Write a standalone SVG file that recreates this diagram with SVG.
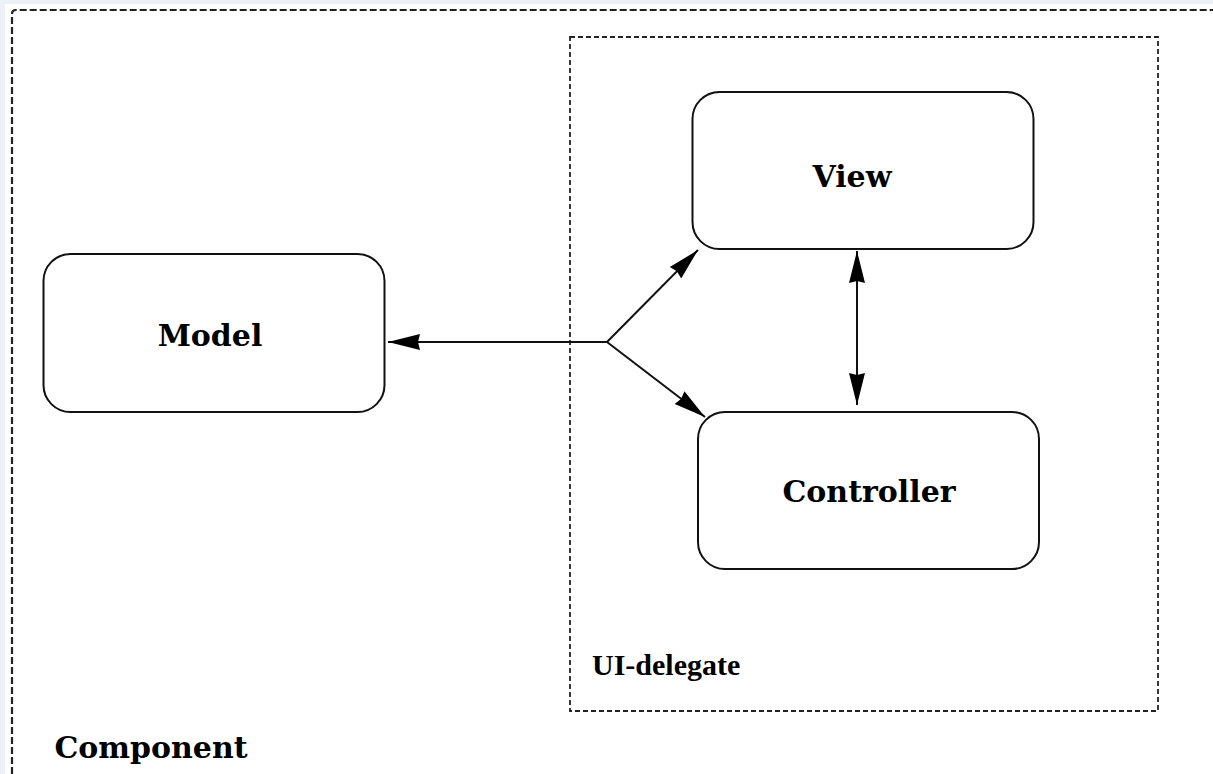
<svg xmlns="http://www.w3.org/2000/svg" width="1213" height="774" viewBox="0 0 1213 774">
<defs>
<style>
.node{fill:#fff;stroke:#111;stroke-width:2}
.lbl{font-family:"DejaVu Serif",serif;font-weight:bold;font-size:30px;fill:#000;text-anchor:middle}
.lbl2{font-family:"Liberation Serif",serif;font-weight:bold;font-size:30px;fill:#000}
.conn{fill:none;stroke:#111;stroke-width:2}
</style>
<marker id="ah" viewBox="0 0 32 18" refX="32" refY="9" markerWidth="32" markerHeight="18" markerUnits="userSpaceOnUse" orient="auto-start-reverse">
<path d="M0,1 L32,9 L0,17 L2,9 z" fill="#000"/>
</marker>
</defs>
<rect x="0" y="0" width="1213" height="774" fill="#edf0f6"/>
<rect x="5" y="4" width="1208" height="770" fill="#fff"/>
<g id="component">
<path d="M12,774 L12,14 Q12,10 16,10 L1213,10" fill="none" stroke="#222" stroke-width="2.2" stroke-dasharray="7,3"/>
<text class="lbl" x="151" y="758">Component</text>
</g>
<g id="ui-delegate">
<rect x="570" y="37" width="588" height="674" fill="none" stroke="#222" stroke-width="1.8" stroke-dasharray="5,3"/>
<text class="lbl2" x="592" y="675">UI-delegate</text>
</g>
<g id="model">
<rect class="node" x="43.5" y="254" width="341" height="158" rx="27" ry="27"/>
<text class="lbl" x="210" y="346">Model</text>
</g>
<g id="view">
<rect class="node" x="692.5" y="92" width="341" height="157" rx="27" ry="27"/>
<text class="lbl" x="852" y="187">View</text>
</g>
<g id="controller">
<rect class="node" x="698" y="412" width="341" height="157" rx="27" ry="27"/>
<text class="lbl" x="869" y="502">Controller</text>
</g>
<g id="connectors">
<line class="conn" x1="607" y1="342" x2="388" y2="342" marker-end="url(#ah)"/>
<line class="conn" x1="607" y1="342" x2="698" y2="250" marker-end="url(#ah)"/>
<line class="conn" x1="607" y1="342" x2="705" y2="417" marker-end="url(#ah)"/>
<line class="conn" x1="857" y1="251" x2="857" y2="405" marker-start="url(#ah)" marker-end="url(#ah)"/>
</g>
</svg>
